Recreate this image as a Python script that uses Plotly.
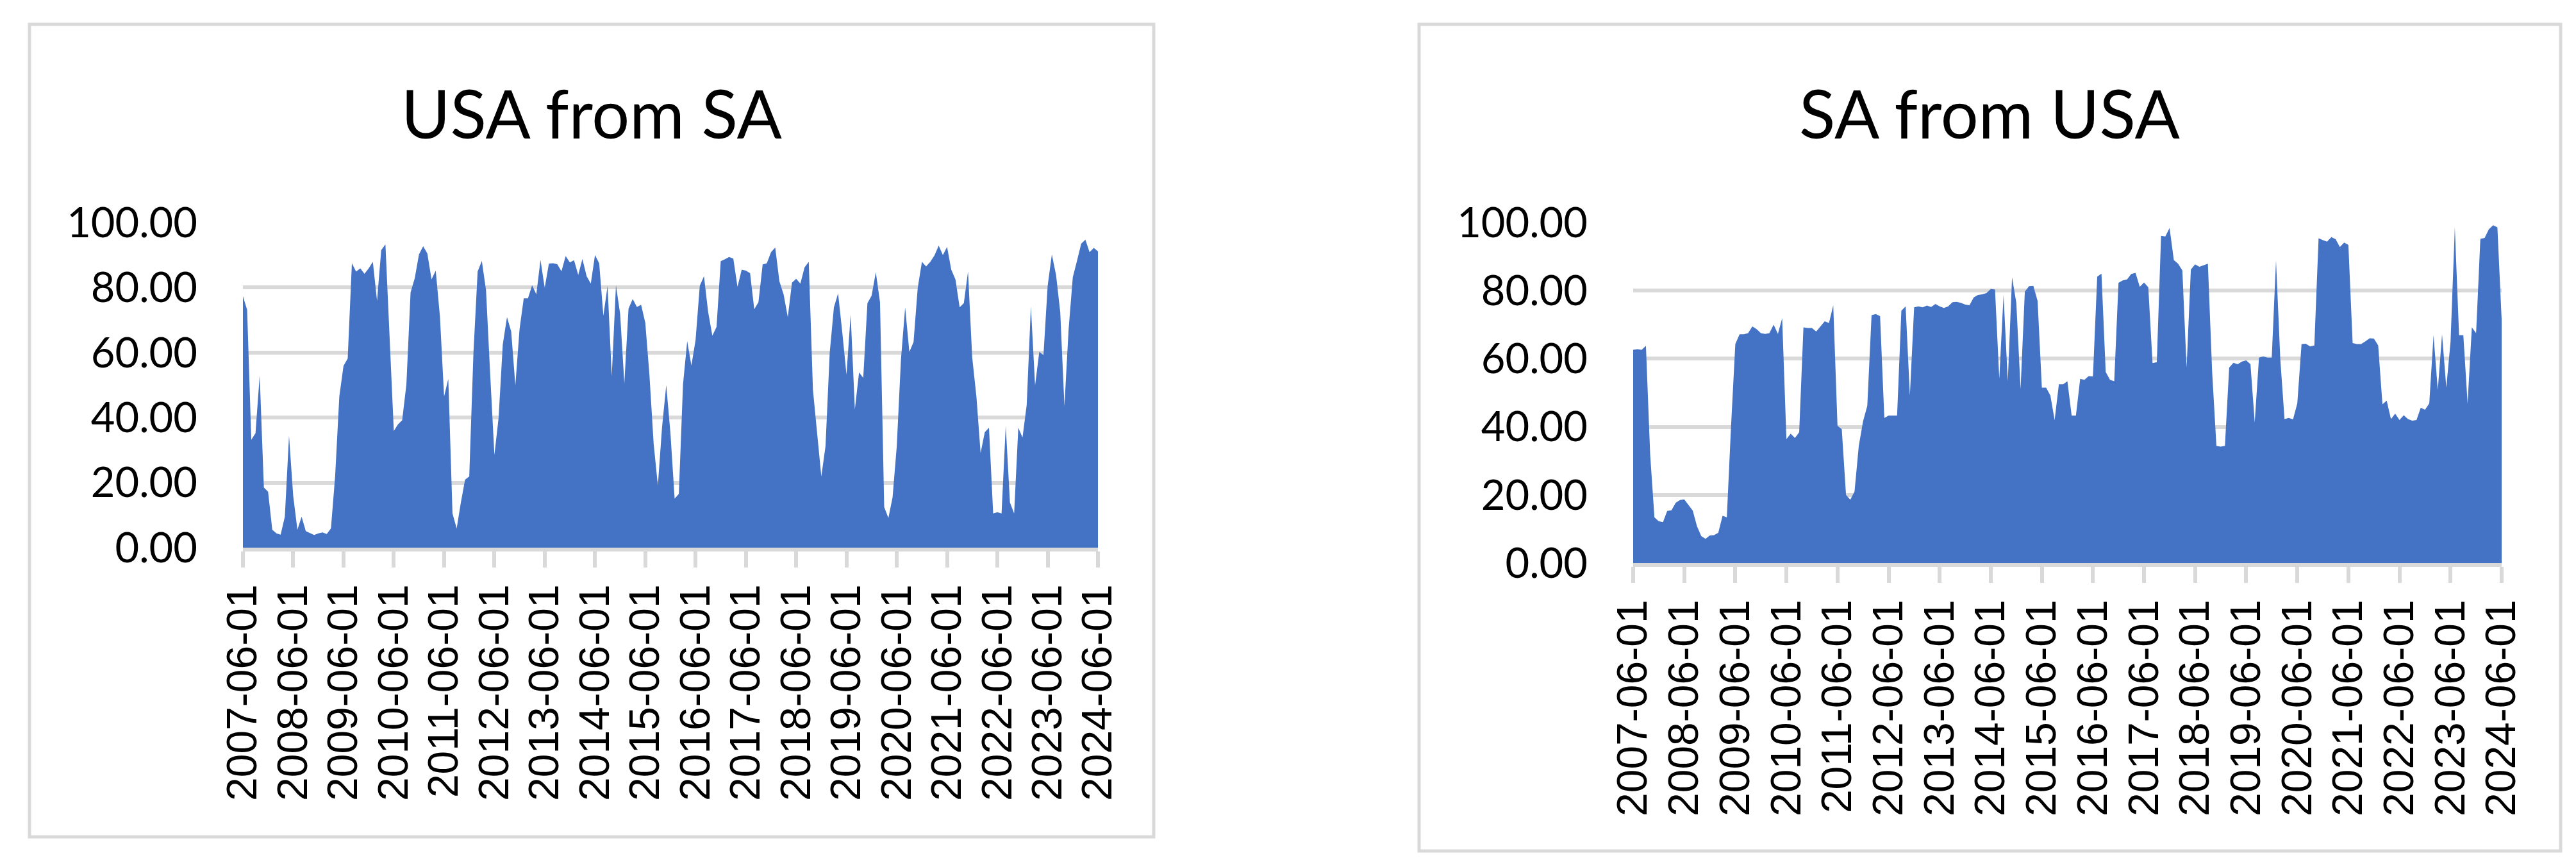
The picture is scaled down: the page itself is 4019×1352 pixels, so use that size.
import pandas as pd
import plotly.graph_objects as go

# monthly observations, 2007-06 .. 2024-06
months = pd.date_range("2007-06-01", "2024-06-01", freq="MS").strftime("%Y-%m-%d").tolist()
year_ticks = [m for m in months if m.endswith("-06-01")]

usa_from_sa = [
    77.3, 73.2, 33.2, 35.2, 53.0, 18.5, 17.2, 5.5, 4.4, 4.0, 9.5, 34.4,
    15.9, 5.5, 9.5, 5.1, 4.5, 3.9, 4.4, 4.7, 4.2, 5.9, 21.9, 46.5,
    55.9, 58.2, 87.5, 84.9, 85.9, 84.2, 85.9, 87.9, 75.9, 91.5, 93.3, 64.5,
    35.9, 37.9, 39.2, 50.2, 78.5, 82.9, 90.2, 92.7, 90.5, 82.5, 85.2, 71.2,
    46.5, 51.9, 10.5, 5.9, 13.9, 20.9, 21.9, 59.9, 84.9, 88.2, 79.2, 53.2,
    28.5, 39.9, 62.5, 70.9, 66.5, 49.9, 67.2, 76.7, 76.7, 80.7, 77.9, 88.5,
    79.9, 87.4, 87.5, 87.2, 85.0, 89.7, 87.7, 88.4, 83.9, 88.8, 83.5, 81.2,
    90.0, 87.5, 71.3, 80.5, 52.7, 80.7, 71.9, 50.5, 73.5, 76.5, 74.0, 74.7,
    69.2, 52.9, 31.9, 19.1, 37.1, 50.0, 35.2, 15.1, 16.5, 50.2, 63.5, 56.0,
    63.9, 80.5, 83.5, 72.5, 65.2, 67.9, 88.1, 88.7, 89.4, 88.9, 80.2, 85.5,
    85.2, 84.4, 73.3, 75.5, 87.1, 87.5, 90.9, 92.3, 81.9, 77.9, 70.9, 81.5,
    82.7, 81.2, 86.2, 87.9, 48.5, 35.2, 21.9, 31.2, 59.9, 73.9, 78.2, 66.2,
    53.2, 71.7, 42.5, 53.9, 52.2, 75.2, 77.5, 84.7, 75.5, 12.5, 9.1, 15.5,
    31.2, 57.9, 73.9, 60.2, 63.2, 79.9, 87.9, 86.5, 87.9, 89.9, 92.9, 90.0,
    92.5, 85.5, 82.5, 73.9, 75.2, 84.9, 58.5, 46.5, 29.1, 35.5, 36.9, 10.5,
    10.9, 10.5, 37.5, 13.9, 10.5, 36.9, 33.9, 43.9, 74.2, 49.9, 60.2, 59.2,
    80.5, 90.2, 83.9, 72.5, 43.5, 67.2, 83.2, 88.2, 93.5, 94.7, 90.9, 92.2,
    91.1,
]

sa_from_usa = [
    62.6, 62.8, 62.6, 63.8, 31.8, 13.4, 12.3, 12.0, 15.3, 15.5, 17.7, 18.5,
    18.7, 17.0, 15.4, 10.8, 7.9, 7.1, 8.1, 8.2, 8.9, 13.9, 13.4, 40.3,
    64.3, 67.2, 67.2, 67.5, 69.5, 68.7, 67.5, 67.3, 67.5, 70.0, 67.3, 71.9,
    36.4, 38.0, 36.7, 38.4, 69.2, 69.0, 69.0, 68.0, 69.5, 71.0, 70.5, 75.7,
    40.3, 39.3, 20.0, 18.6, 21.0, 34.4, 41.6, 46.2, 72.8, 73.1, 72.5, 42.6,
    43.3, 43.3, 43.3, 74.1, 75.4, 49.2, 75.1, 75.4, 75.1, 75.6, 75.2, 76.1,
    75.4, 74.9, 75.4, 76.6, 76.7, 76.4, 75.9, 75.7, 78.0, 78.7, 78.9, 79.3,
    80.5, 80.3, 54.1, 78.7, 53.4, 83.9, 76.4, 51.1, 79.7, 81.3, 81.4, 77.0,
    51.5, 51.5, 49.2, 42.0, 52.5, 52.5, 53.4, 43.3, 43.3, 54.1, 53.8, 54.9,
    54.8, 84.1, 85.0, 56.1, 53.8, 53.4, 82.3, 83.0, 83.3, 84.9, 85.2, 81.1,
    82.4, 81.0, 58.7, 59.0, 96.1, 95.9, 98.4, 89.0, 87.9, 85.9, 57.4, 86.2,
    87.7, 87.0, 87.4, 87.9, 56.1, 34.4, 34.2, 34.4, 57.4, 58.8, 58.4, 59.2,
    59.5, 58.4, 41.3, 60.3, 60.7, 60.3, 60.3, 88.9, 60.0, 42.3, 42.6, 42.2,
    46.9, 64.3, 64.4, 63.6, 63.9, 95.4, 94.8, 94.4, 95.7, 95.1, 92.8, 94.1,
    93.4, 64.6, 64.3, 64.3, 65.1, 66.0, 65.9, 63.9, 46.6, 47.7, 42.3, 43.9,
    42.0, 43.4, 42.3, 41.8, 42.0, 45.6, 45.0, 46.9, 66.9, 50.8, 67.2, 51.5,
    65.0, 98.6, 66.9, 66.9, 46.9, 69.2, 67.5, 95.2, 95.5, 98.0, 99.2, 98.6,
    71.5,
]

W, H = 4019, 1352
FILL = "#4472C4"
GRID = "#D9D9D9"
TITLE_FONT = "Lato, Calibri, sans-serif"
DATE_FONT = "Liberation Sans, Arial, sans-serif"


def px_x(v):
    return v / W


def px_y(v):
    return 1 - v / H


fig = go.Figure()

fig.add_trace(go.Scatter(
    x=months, y=usa_from_sa, mode="lines", fill="tozeroy",
    fillcolor=FILL, line={"width": 0, "color": FILL},
    xaxis="x", yaxis="y", showlegend=False,
))
fig.add_trace(go.Scatter(
    x=months, y=sa_from_usa, mode="lines", fill="tozeroy",
    fillcolor=FILL, line={"width": 0, "color": FILL},
    xaxis="x2", yaxis="y2", showlegend=False,
))

xaxis_style = dict(
    type="category",
    automargin=False,
    range=[0, len(months) - 1],
    tickmode="array",
    tickvals=year_ticks,
    ticktext=year_ticks,
    tickangle=-90,
    ticks="outside",
    ticklen=25,
    tickwidth=6,
    tickcolor=GRID,
    showline=True,
    linecolor=GRID,
    linewidth=6,
    showgrid=False,
    tickfont={"family": DATE_FONT, "size": 66, "color": "#000000"},
)
yaxis_style = dict(
    automargin=False,
    range=[0, 100],
    tick0=0,
    dtick=20,
    tickformat=".2f",
    showgrid=True,
    gridcolor=GRID,
    gridwidth=6,
    zeroline=False,
    showline=False,
    ticks="",
    ticklabelstandoff=70,
    tickfont={"family": TITLE_FONT, "size": 65, "color": "#000000"},
)

fig.update_layout(
    width=W,
    height=H,
    margin={"l": 0, "r": 0, "t": 0, "b": 0, "pad": 0},
    paper_bgcolor="#FFFFFF",
    plot_bgcolor="#FFFFFF",
    xaxis=dict(xaxis_style, domain=[px_x(371), px_x(1705)], anchor="y"),
    yaxis=dict(yaxis_style, domain=[px_y(846), px_y(339)], anchor="x"),
    xaxis2=dict(xaxis_style, domain=[px_x(2540), px_x(3895)], anchor="y2"),
    yaxis2=dict(yaxis_style, domain=[px_y(870), px_y(339)], anchor="x2"),
    shapes=[
        dict(type="rect", xref="paper", yref="paper",
             x0=px_x(38), x1=px_x(1792), y0=px_y(1297), y1=px_y(30),
             line={"color": GRID, "width": 5}, fillcolor="rgba(0,0,0,0)", layer="below"),
        dict(type="rect", xref="paper", yref="paper",
             x0=px_x(2206), x1=px_x(3987), y0=px_y(1319), y1=px_y(30),
             line={"color": GRID, "width": 5}, fillcolor="rgba(0,0,0,0)", layer="below"),
    ],
    annotations=[
        dict(text="USA from SA", xref="paper", yref="paper",
             x=px_x(915), y=px_y(168), xanchor="center", yanchor="middle",
             showarrow=False, font={"family": TITLE_FONT, "size": 104, "color": "#000000"}),
        dict(text="SA from USA", xref="paper", yref="paper",
             x=px_x(3096), y=px_y(168), xanchor="center", yanchor="middle",
             showarrow=False, font={"family": TITLE_FONT, "size": 104, "color": "#000000"}),
    ],
)

fig.write_html("out.html")
